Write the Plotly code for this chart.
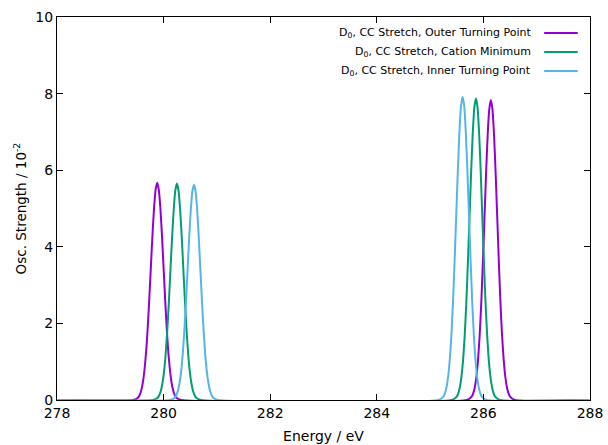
import plotly.graph_objects as go

# ---- data ----
series_names = [
    "D<sub>0</sub>, CC Stretch, Outer Turning Point",
    "D<sub>0</sub>, CC Stretch, Cation Minimum",
    "D<sub>0</sub>, CC Stretch, Inner Turning Point",
]
series_colors = ["#9400d3", "#009e73", "#56b4e9"]

outer_energy = [278.00,
                279.43, 279.52, 279.55, 279.58, 279.61, 279.64, 279.67, 279.70, 279.73,
                279.76, 279.79, 279.82, 279.85, 279.88, 279.91, 279.94, 279.97, 280.00,
                280.03, 280.06, 280.09, 280.12, 280.15, 280.18, 280.21, 280.24, 280.33,
                285.69, 285.78, 285.81, 285.84, 285.87, 285.90, 285.93, 285.96, 285.99,
                286.02, 286.05, 286.08, 286.11, 286.14, 286.17, 286.20, 286.23, 286.26,
                286.29, 286.32, 286.35, 286.38, 286.41, 286.44, 286.47, 286.50, 286.59,
                288.00]
outer_strength = [0.00,
                  0.00, 0.06, 0.13, 0.25, 0.45, 0.77, 1.22, 1.84, 2.60,
                  3.44, 4.28, 5.00, 5.49, 5.67, 5.49, 5.00, 4.28, 3.44,
                  2.60, 1.84, 1.22, 0.77, 0.45, 0.25, 0.13, 0.06, 0.00,
                  0.00, 0.09, 0.18, 0.34, 0.62, 1.06, 1.69, 2.54, 3.59,
                  4.75, 5.91, 6.91, 7.59, 7.83, 7.59, 6.91, 5.91, 4.75,
                  3.59, 2.54, 1.69, 1.06, 0.62, 0.34, 0.18, 0.09, 0.00,
                  0.00]

cation_energy = [278.00,
                 279.80, 279.89, 279.92, 279.95, 279.98, 280.01, 280.04, 280.07, 280.10,
                 280.13, 280.16, 280.19, 280.22, 280.25, 280.28, 280.31, 280.34, 280.37,
                 280.40, 280.43, 280.46, 280.49, 280.52, 280.55, 280.58, 280.61, 280.70,
                 285.41, 285.50, 285.53, 285.56, 285.59, 285.62, 285.65, 285.68, 285.71,
                 285.74, 285.77, 285.80, 285.83, 285.86, 285.89, 285.92, 285.95, 285.98,
                 286.01, 286.04, 286.07, 286.10, 286.13, 286.16, 286.19, 286.22, 286.31,
                 288.00]
cation_strength = [0.00,
                   0.00, 0.06, 0.13, 0.25, 0.45, 0.76, 1.22, 1.84, 2.59,
                   3.43, 4.27, 4.98, 5.47, 5.65, 5.47, 4.98, 4.27, 3.43,
                   2.59, 1.84, 1.22, 0.76, 0.45, 0.25, 0.13, 0.06, 0.00,
                   0.00, 0.09, 0.18, 0.35, 0.63, 1.06, 1.70, 2.56, 3.61,
                   4.78, 5.95, 6.95, 7.64, 7.88, 7.64, 6.95, 5.95, 4.78,
                   3.61, 2.56, 1.70, 1.06, 0.63, 0.35, 0.18, 0.09, 0.00,
                   0.00]

inner_energy = [278.00,
                280.12, 280.21, 280.24, 280.27, 280.30, 280.33, 280.36, 280.39, 280.42,
                280.45, 280.48, 280.51, 280.54, 280.57, 280.60, 280.63, 280.66, 280.69,
                280.72, 280.75, 280.78, 280.81, 280.84, 280.87, 280.90, 280.93, 281.02,
                285.16, 285.25, 285.28, 285.31, 285.34, 285.37, 285.40, 285.43, 285.46,
                285.49, 285.52, 285.55, 285.58, 285.61, 285.64, 285.67, 285.70, 285.73,
                285.76, 285.79, 285.82, 285.85, 285.88, 285.91, 285.94, 285.97, 286.06,
                288.00]
inner_strength = [0.00,
                  0.00, 0.06, 0.13, 0.25, 0.45, 0.76, 1.21, 1.83, 2.57,
                  3.41, 4.24, 4.96, 5.45, 5.62, 5.45, 4.96, 4.24, 3.41,
                  2.57, 1.83, 1.21, 0.76, 0.45, 0.25, 0.13, 0.06, 0.00,
                  0.00, 0.09, 0.18, 0.35, 0.63, 1.07, 1.71, 2.57, 3.63,
                  4.81, 5.98, 6.99, 7.67, 7.92, 7.67, 6.99, 5.98, 4.81,
                  3.63, 2.57, 1.71, 1.07, 0.63, 0.35, 0.18, 0.09, 0.00,
                  0.00]

x_ticks = [278, 280, 282, 284, 286, 288]
y_ticks = [0, 2, 4, 6, 8, 10]

energies = [outer_energy, cation_energy, inner_energy]
strengths = [outer_strength, cation_strength, inner_strength]

FONT = "DejaVu Sans, Liberation Sans, sans-serif"

fig = go.Figure()
for name, color, xs, ys in zip(series_names, series_colors, energies, strengths):
    fig.add_trace(go.Scatter(
        x=xs, y=ys, mode="lines", name=name,
        line=dict(color=color, width=2, shape="spline", smoothing=0.5),
        showlegend=False,
    ))

# gnuplot-style key: right-aligned text with line sample on its right
for i, (name, color) in enumerate(zip(series_names, series_colors)):
    yk = 0.958 - i * 0.0496
    fig.add_annotation(
        x=0.893, y=yk, xref="paper", yref="paper", text=name,
        showarrow=False, xanchor="right", yanchor="middle",
        font=dict(family=FONT, size=11, color="#000000"),
    )
    fig.add_shape(
        type="line", xref="paper", yref="paper",
        x0=0.914, x1=0.977, y0=yk, y1=yk,
        line=dict(color=color, width=2),
    )

axis_common = dict(
    showline=True, linecolor="#000000", linewidth=1, mirror="ticks",
    ticks="inside", ticklen=6, tickcolor="#000000", tickwidth=1,
    showgrid=False, zeroline=False, automargin=False,
    tickfont=dict(family=FONT, size=14, color="#000000"),
)

fig.update_layout(
    width=608, height=445,
    margin=dict(l=57, r=18, t=17, b=45),
    paper_bgcolor="white", plot_bgcolor="white",
    font=dict(family=FONT, color="#000000"),
    xaxis=dict(
        range=[278, 288], tickvals=x_ticks, ticktext=[str(v) for v in x_ticks],
        title=dict(text="Energy / eV", font=dict(family=FONT, size=14), standoff=11),
        **axis_common,
    ),
    yaxis=dict(
        range=[0, 10], tickvals=y_ticks, ticktext=[str(v) for v in y_ticks],
        title=dict(text="Osc. Strength / 10<sup>-2</sup>", font=dict(family=FONT, size=13.5), standoff=5),
        **axis_common,
    ),
)

fig.write_html("out.html", config={"displayModeBar": False},
               post_script="document.body.style.margin='0';")
